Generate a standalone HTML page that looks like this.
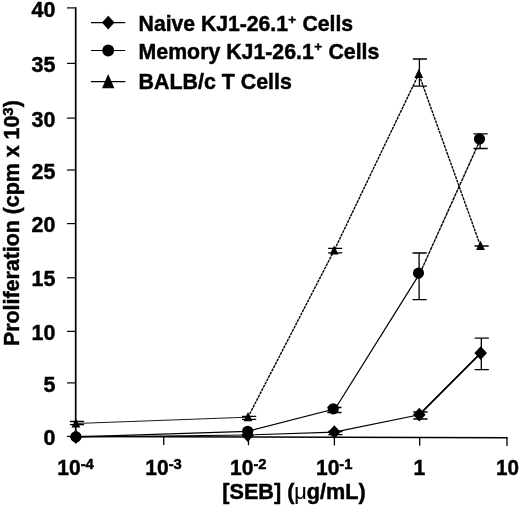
<!DOCTYPE html>
<html><head><meta charset="utf-8"><title>Figure</title>
<style>html,body{margin:0;padding:0;background:#fff}svg{display:block}.t{font-family:"Liberation Sans",Arial,Helvetica,sans-serif;font-weight:bold;font-size:21.3px;stroke:#000;stroke-width:.45px;fill:#000}</style></head>
<body>
<svg width="520" height="505" viewBox="0 0 520 505">
<rect width="520" height="505" fill="#fff"/>
<g stroke="#000" fill="none" stroke-linecap="butt">
<path d="M75.7 7.3 V437.2" stroke-width="1.7"/>
<path d="M74.9 436.5 L507.6 437.7" stroke-width="1.4"/>
<path d="M67 7.9 H75.7" stroke-width="1.2"/>
<path d="M67 63.4 H75.7" stroke-width="1.2"/>
<path d="M67 118.1 H75.7" stroke-width="1.2"/>
<path d="M67 170.0 H75.7" stroke-width="1.2"/>
<path d="M67 223.6 H75.7" stroke-width="1.2"/>
<path d="M67 277.8 H75.7" stroke-width="1.2"/>
<path d="M67 331.4 H75.7" stroke-width="1.2"/>
<path d="M67 382.9 H75.7" stroke-width="1.2"/>
<path d="M67 436.4 H75.7" stroke-width="1.2"/>
<path d="M163.75 436.7 V445.0" stroke-width="1.3"/>
<path d="M248.5 437.0 V445.3" stroke-width="1.3"/>
<path d="M334.4 437.2 V445.5" stroke-width="1.3"/>
<path d="M419.7 437.5 V445.8" stroke-width="1.3"/>
<path d="M507.0 437.7 V446.0" stroke-width="1.3"/>
</g>
<text transform="translate(55.3 16.5) scale(1.004 1)" class="t" text-anchor="end">40</text>
<text transform="translate(55.3 72.0) scale(1.004 1)" class="t" text-anchor="end">35</text>
<text transform="translate(55.3 126.7) scale(1.004 1)" class="t" text-anchor="end">30</text>
<text transform="translate(55.3 178.6) scale(1.004 1)" class="t" text-anchor="end">25</text>
<text transform="translate(55.3 232.2) scale(1.004 1)" class="t" text-anchor="end">20</text>
<text transform="translate(55.3 286.4) scale(1.004 1)" class="t" text-anchor="end">15</text>
<text transform="translate(55.3 340.0) scale(1.004 1)" class="t" text-anchor="end">10</text>
<text transform="translate(55.3 391.5) scale(1.004 1)" class="t" text-anchor="end">5</text>
<text transform="translate(55.3 445.0) scale(1.004 1)" class="t" text-anchor="end">0</text>
<text transform="translate(57.3 475.2) scale(0.986 1)" class="t">10<tspan font-size="15" dy="-6.3">-4</tspan></text>
<text transform="translate(145.3 475.2) scale(0.986 1)" class="t">10<tspan font-size="15" dy="-6.3">-3</tspan></text>
<text transform="translate(230.1 475.2) scale(0.986 1)" class="t">10<tspan font-size="15" dy="-6.3">-2</tspan></text>
<text transform="translate(316.0 475.2) scale(0.986 1)" class="t">10<tspan font-size="15" dy="-6.3">-1</tspan></text>
<text transform="translate(419.3 475.2) scale(0.986 1)" class="t" text-anchor="middle">1</text>
<text transform="translate(507.6 475.2) scale(0.97 1)" class="t" text-anchor="middle">10</text>
<text transform="translate(222.3 498.6) scale(1.015 1)" class="t">[SEB] (<tspan font-weight="normal" stroke-width="0.15">μ</tspan>g/mL)</text>
<text transform="translate(19.2 346.0) rotate(-90) scale(1.003 1)" class="t">Proliferation (cpm x 10<tspan font-size="15" dy="-6.3">3</tspan><tspan dy="6.3">)</tspan></text>
<path d="M91 22.6 H125.3" stroke="#000" stroke-width="1.1"/>
<path d="M108.2 15.7 L114.5 22.6 L108.2 29.5 L101.9 22.6Z" fill="#000"/>
<text transform="translate(138.6 30.8) scale(0.994 1)" class="t">Naive KJ1-26.1<tspan font-size="13.5" dx="0.4" dy="-7.2">+</tspan><tspan dx="0.4" dy="7.2"> Cells</tspan></text>
<path d="M91 50.5 H125.3" stroke="#000" stroke-width="1.1"/>
<circle cx="108.2" cy="50.5" r="5.9" fill="#000"/>
<text transform="translate(138.6 58.5) scale(1.0 1)" class="t">Memory KJ1-26.1<tspan font-size="13.5" dx="0.4" dy="-7.2">+</tspan><tspan dx="0.4" dy="7.2"> Cells</tspan></text>
<path d="M91 81.6 H125.3" stroke="#000" stroke-width="1.1"/>
<path d="M108.2 74.0 L114.4 88.2 L102.0 88.2Z" fill="#000"/>
<text transform="translate(138.6 89.3) scale(1.004 1)" class="t">BALB/c T Cells</text>
<path d="M75.9 423.5 L248.0 417.2" fill="none" stroke="#000" stroke-width="0.9"/>
<path d="M248.0 417.2 L334.1 250.6 L418.8 74.0 L480.5 246.0" fill="none" stroke="#000" stroke-width="1.4" stroke-dasharray="2.9 0.8"/>
<path d="M76.5 421.5 V424.7 M69.9 421.5 H84.1 M69.9 424.7 H84.1" stroke="#000" stroke-width="1.3" fill="none"/>
<path d="M75.9 418.3 L80.3 427.5 L71.5 427.5Z" fill="#000"/>
<path d="M248.6 416.4 V419.3 M242.0 416.4 H256.2 M242.0 419.3 H256.2" stroke="#000" stroke-width="1.3" fill="none"/>
<path d="M248.0 412.0 L252.4 421.2 L243.6 421.2Z" fill="#000"/>
<path d="M334.7 248.4 V252.8 M328.1 248.4 H342.3 M328.1 252.8 H342.3" stroke="#000" stroke-width="1.3" fill="none"/>
<path d="M334.1 245.4 L338.5 254.6 L329.7 254.6Z" fill="#000"/>
<path d="M419.4 59.0 V86.1 M412.8 59.0 H427.0 M412.8 86.1 H427.0" stroke="#000" stroke-width="1.3" fill="none"/>
<path d="M418.8 68.8 L423.2 78.0 L414.4 78.0Z" fill="#000"/>
<path d="M481.1 246 V246 M474.5 246 H488.7 M474.5 246 H488.7" stroke="#000" stroke-width="1.3" fill="none"/>
<path d="M480.5 240.8 L484.9 250.0 L476.1 250.0Z" fill="#000"/>
<path d="M75.9 436.8 L247.7 431.3 L335.2 408.8 L420.0 273.1" fill="none" stroke="#000" stroke-width="1.2"/>
<path d="M420.0 273.1 L480.6 139.0" fill="none" stroke="#000" stroke-width="1.4" stroke-dasharray="3.6 0.6"/>
<circle cx="75.9" cy="436.8" r="5.6" fill="#000"/>
<circle cx="247.7" cy="431.3" r="5.6" fill="#000"/>
<path d="M333.9 407.5 V412.5 M327.3 407.5 H341.5 M327.3 412.5 H341.5" stroke="#000" stroke-width="1.3" fill="none"/>
<circle cx="333.3" cy="408.8" r="5.6" fill="#000"/>
<path d="M419.1 253.0 V299.7 M412.5 253.0 H426.7 M412.5 299.7 H426.7" stroke="#000" stroke-width="1.3" fill="none"/>
<circle cx="418.5" cy="273.1" r="5.6" fill="#000"/>
<path d="M480.1 133.8 V148.5 M473.5 133.8 H487.7 M473.5 148.5 H487.7" stroke="#000" stroke-width="1.3" fill="none"/>
<circle cx="479.5" cy="139.0" r="5.6" fill="#000"/>
<path d="M75.9 437.0 L247.7 435.0 L334.3 432.1 L419.3 414.7 L480.7 353.1" fill="none" stroke="#000" stroke-width="1.1"/>
<path d="M419.3 414.7 L480.7 353.1" stroke="#000" stroke-width="1.7"/>
<path d="M75.9 430.1 L82.2 437.0 L75.9 443.9 L69.6 437.0Z" fill="#000"/>
<path d="M247.7 428.1 L254.0 435.0 L247.7 441.9 L241.4 435.0Z" fill="#000"/>
<path d="M334.9 431.5 V434.6 M328.3 431.5 H342.5 M328.3 434.6 H342.5" stroke="#000" stroke-width="1.3" fill="none"/>
<path d="M334.3 425.2 L340.6 432.1 L334.3 439.0 L328.0 432.1Z" fill="#000"/>
<path d="M419.9 412.0 V419.0 M413.3 412.0 H427.5 M413.3 419.0 H427.5" stroke="#000" stroke-width="1.3" fill="none"/>
<path d="M419.3 407.8 L425.6 414.7 L419.3 421.6 L413.0 414.7Z" fill="#000"/>
<path d="M481.3 338.2 V369.6 M474.7 338.2 H488.9 M474.7 369.6 H488.9" stroke="#000" stroke-width="1.3" fill="none"/>
<path d="M480.7 346.2 L487.0 353.1 L480.7 360.0 L474.4 353.1Z" fill="#000"/>
</svg>
</body></html>
